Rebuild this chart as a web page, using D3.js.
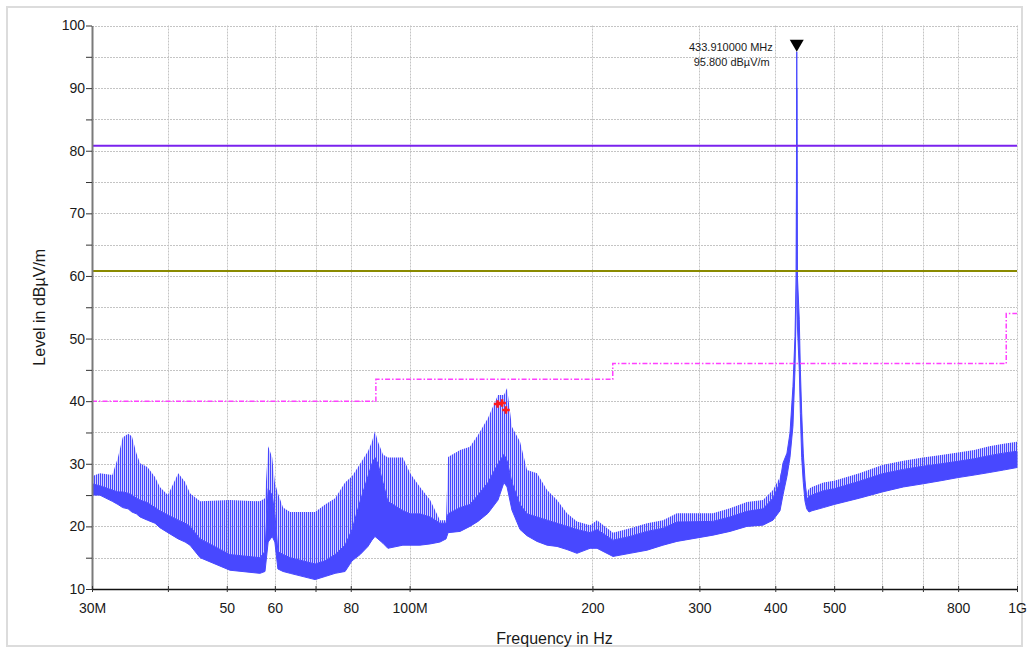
<!DOCTYPE html>
<html>
<head>
<meta charset="utf-8">
<script src="https://cdn.jsdelivr.net/npm/d3@7"></script>
<style>
  html, body { margin: 0; padding: 0; background: #ffffff; }
  svg { display: block; font-family: "Liberation Sans", Arial, Helvetica, sans-serif; }
</style>
</head>
<body>
<svg id="chart" width="1029" height="648"></svg>
<script>
// Spectrum trace, sampled at knot frequencies (MHz):
// peak = top of the comb spikes, core = top of the dense band, floor = bottom of the trace (dBµV/m)
const freqMHz = [
  30.0, 30.9, 32.4, 33.1, 33.7, 34.4, 34.9, 35.5, 36.0, 37.0, 38.1, 38.8, 40.0, 41.6, 42.7, 43.5,
  45.2, 50.6, 56.7, 57.8, 58.5, 59.4, 60.0, 60.7, 61.9, 63.6, 69.9, 72.6, 75.4, 78.3, 80.4, 82.9,
  85.4, 86.7, 87.7, 88.7, 90.4, 92.1, 97.5, 100.2, 104.0, 108.1, 112.2, 114.8, 115.7, 121.1, 125.7,
  129.6, 134.6, 139.8, 143.0, 144.7, 147.4, 152.0, 156.1, 162.1, 168.4, 174.9, 181.6, 188.6, 198.2,
  203.5, 216.2, 230.7, 246.0, 261.3, 275.5, 315.9, 336.9, 359.2, 381.8, 396.5, 407.2, 411.8, 418.1,
  422.9, 427.7, 431.0, 433.0, 433.91, 435.0, 438.1, 439.9, 442.1, 444.8, 447.7, 450.6, 454.5, 459.7,
  480, 500, 550, 600, 650, 700, 750, 800, 850, 900, 950, 1000
];
const peakLevel = [
  28.0, 28.5, 28.2, 31.0, 34.2, 34.8, 34.4, 31.7, 30.1, 29.5, 27.9, 26.3, 25.0, 28.5, 27.1, 25.3,
  24.0, 24.2, 24.0, 24.5, 32.8, 31.0, 27.0, 25.3, 23.0, 22.3, 22.3, 23.5, 24.5, 27.0, 28.0, 30.0,
  32.0, 33.5, 35.2, 33.5, 31.5, 31.0, 31.0, 28.5, 26.3, 24.2, 21.0, 21.0, 31.1, 32.2, 32.7,
  34.6, 37.3, 41.0, 41.0, 42.1, 35.9, 33.5, 29.0, 28.5, 25.8, 24.2, 22.1, 20.8, 20.2,
  21.0, 19.0, 19.7, 20.5, 21.0, 22.1, 22.1, 22.9, 23.9, 24.2, 25.8, 27.9, 30.1, 31.7,
  34.9, 42.3, 50.3, 60.0, 95.8, 60.0, 53.0, 45.0, 38.1, 31.7, 27.4, 25.3, 26.0, 26.3,
  27.0, 27.3, 28.5, 29.8, 30.5, 31.0, 31.4, 31.8, 32.2, 32.8, 33.2, 33.5
];
const coreLevel = [
  26.8, 26.5, 25.8, 25.5, 25.5, 25.3, 25.0, 24.5, 24.2, 23.8, 23.0, 22.5, 21.8, 21.0, 20.5, 20.0,
  18.0, 15.5, 15.0, 16.0, 26.0, 25.0, 22.0, 16.0, 15.5, 15.0, 14.0, 14.5, 15.5, 17.0, 19.5, 24.0,
  28.0, 30.0, 31.0, 30.0, 27.0, 24.0, 22.5, 22.0, 22.0, 21.5, 20.5, 20.5, 22.0, 23.0, 23.5,
  25.0, 27.0, 30.0, 31.5, 30.5, 27.0, 23.5, 22.0, 21.5, 21.0, 20.5, 20.0, 19.5, 19.0,
  19.5, 17.8, 18.4, 19.2, 19.7, 20.7, 20.8, 21.5, 22.4, 22.8, 24.5, 27.0, 30.1, 31.7,
  34.9, 42.3, 50.3, 60.0, 95.8, 60.0, 53.0, 45.0, 38.1, 31.7, 27.4, 24.3, 24.8, 25.0,
  25.7, 26.0, 27.2, 28.4, 29.1, 29.6, 30.0, 30.4, 30.8, 31.3, 31.7, 32.0
];
const floorLevel = [
  25.0, 25.0, 24.0, 23.5, 23.0, 22.8, 22.3, 22.0, 21.5, 21.0, 20.5, 19.8, 19.0, 18.0, 17.5, 17.0,
  15.0, 13.0, 12.5, 12.8, 17.5, 18.4, 17.5, 13.2, 12.8, 12.5, 11.5, 12.0, 12.5, 12.8, 14.5, 15.5,
  16.8, 17.8, 18.4, 18.0, 17.3, 16.5, 17.0, 17.0, 17.0, 17.2, 17.5, 18.0, 19.0, 19.2, 20.0,
  20.8, 22.1, 24.2, 27.0, 26.3, 22.6, 19.5, 18.5, 17.6, 17.0, 16.8, 16.3, 15.7, 16.5,
  16.5, 15.2, 15.7, 16.2, 17.0, 17.6, 18.6, 19.2, 20.0, 20.2, 21.0, 22.5, 25.0, 28.0,
  31.0, 36.0, 45.0, 55.0, 90.0, 52.0, 45.0, 38.0, 31.0, 27.0, 24.0, 22.8, 22.3, 22.5,
  23.0, 23.5, 24.5, 25.5, 26.3, 26.8, 27.3, 27.8, 28.2, 28.6, 29.0, 29.4
];

// Axis ticks
const xTickValues = [30, 40, 50, 60, 70, 80, 100, 200, 300, 400, 500, 600, 700, 800, 1000];
const xTickLabels = { 30: "30M", 50: "50", 60: "60", 80: "80", 100: "100M", 200: "200",
                      300: "300", 400: "400", 500: "500", 800: "800", 1000: "1G" };
const yTickValues = [10, 15, 20, 25, 30, 35, 40, 45, 50, 55, 60, 65, 70, 75, 80, 85, 90, 95, 100];

// Limit lines
const stepLimitFreq = [30, 88, 216, 960, 1000];
const stepLimitLevel = [40, 43.5, 46, 54, 54];
const fundamentalLimit = 80.8;
const spuriousLimit = 60.8;

// Peak marker and final measurement points
const markerFreq = 433.91;
const markerLevel = 95.8;
const finalFreq = [139.6, 142.0, 144.1];
const finalLevel = [39.55, 39.7, 38.6];

(function draw() {
  const traceColor = "#4848ff";

  const svg = d3.select("#chart");
  const pLeft = 92, pRight = 1017, pTop = 25.5, pBottom = 589;

  const x = d3.scaleLog().domain([30, 1000]).range([pLeft, pRight]);
  const y = d3.scaleLinear().domain([10, 100]).range([pBottom, pTop]);

  // outer frame
  svg.append("rect").attr("x", 7).attr("y", 7).attr("width", 1015).attr("height", 639)
    .attr("fill", "#ffffff").attr("stroke", "#dcdcdc").attr("stroke-width", 2);

  const defs = svg.append("defs");
  defs.append("clipPath").attr("id", "plotClip")
    .append("rect").attr("x", pLeft).attr("y", pTop - 1)
    .attr("width", pRight - pLeft + 1).attr("height", pBottom - pTop + 1);
  // vertical hatching for the sparse upper part of the comb
  const pat = defs.append("pattern").attr("id", "combFill")
    .attr("patternUnits", "userSpaceOnUse").attr("width", 2).attr("height", 4);
  pat.append("rect").attr("x", 0).attr("y", 0).attr("width", 1.25).attr("height", 4).attr("fill", traceColor);

  // grid
  const grid = svg.append("g").attr("stroke", "#c4c4c4").attr("stroke-width", 1).attr("stroke-dasharray", "2,1");
  grid.selectAll("line.h").data(yTickValues.filter(v => v > 10)).enter().append("line")
    .attr("x1", pLeft).attr("x2", pRight)
    .attr("y1", d => Math.round(y(d)) + 0.5).attr("y2", d => Math.round(y(d)) + 0.5);
  grid.selectAll("line.v").data(xTickValues.filter(v => v > 30)).enter().append("line")
    .attr("x1", d => Math.round(x(d)) + 0.5).attr("x2", d => Math.round(x(d)) + 0.5)
    .attr("y1", pTop).attr("y2", pBottom);

  // trace
  const trace = d3.range(freqMHz.length).map(i => ({
    f: freqMHz[i], peak: peakLevel[i], core: coreLevel[i], floor: floorLevel[i]
  }));
  const plot = svg.append("g").attr("clip-path", "url(#plotClip)");
  plot.append("path").datum(trace)
    .attr("d", d3.area().x(d => x(d.f)).y0(d => y(d.core)).y1(d => y(d.peak)))
    .attr("fill", "url(#combFill)");
  plot.append("path").datum(trace)
    .attr("d", d3.area().x(d => x(d.f)).y0(d => y(d.floor)).y1(d => y(d.core)))
    .attr("fill", traceColor).attr("stroke", traceColor).attr("stroke-width", 1)
    .attr("stroke-linejoin", "round");

  // limit lines
  const lim = svg.append("g").attr("clip-path", "url(#plotClip)");
  lim.append("line").attr("x1", pLeft).attr("x2", pRight)
    .attr("y1", y(spuriousLimit)).attr("y2", y(spuriousLimit))
    .attr("stroke", "#8a8a00").attr("stroke-width", 2);
  lim.append("line").attr("x1", pLeft).attr("x2", pRight)
    .attr("y1", y(fundamentalLimit)).attr("y2", y(fundamentalLimit))
    .attr("stroke", "#7a22ee").attr("stroke-width", 2);
  lim.append("path")
    .datum(stepLimitFreq.map((f, i) => [f, stepLimitLevel[i]]))
    .attr("d", d3.line().x(d => x(d[0])).y(d => y(d[1])).curve(d3.curveStepAfter))
    .attr("fill", "none").attr("stroke", "#ff40ff").attr("stroke-width", 1.5)
    .attr("stroke-dasharray", "5,2,1.5,2");

  // axes
  const yAxis = svg.append("g").attr("transform", `translate(${pLeft},0)`)
    .call(d3.axisLeft(y).tickValues(yTickValues).tickSize(6).tickSizeOuter(0)
      .tickFormat(d => d % 10 === 0 ? d : ""));
  yAxis.select(".domain").attr("stroke", "#7a7a7a").attr("stroke-width", 2);
  yAxis.selectAll(".tick line").attr("stroke", "#333333");
  yAxis.selectAll(".tick text").attr("x", -7).attr("font-size", 14).attr("fill", "#1a1a1a")
    .attr("font-family", "'Liberation Sans', Arial, sans-serif");

  const xAxis = svg.append("g").attr("transform", `translate(0,${pBottom})`)
    .call(d3.axisBottom(x).tickValues(xTickValues).tickSizeOuter(0)
      .tickFormat(d => xTickLabels[d] || ""));
  xAxis.select(".domain").attr("stroke", "#111111").attr("stroke-width", 1.5);
  xAxis.selectAll(".tick line").attr("y1", -3).attr("y2", 3).attr("stroke", "#333333");
  xAxis.selectAll(".tick text").attr("y", 24).attr("dy", 0).attr("font-size", 14).attr("fill", "#1a1a1a")
    .attr("font-family", "'Liberation Sans', Arial, sans-serif");

  // axis titles
  svg.append("text").attr("x", (pLeft + pRight) / 2).attr("y", 644)
    .attr("text-anchor", "middle").attr("font-size", 16).attr("fill", "#1a1a1a")
    .text("Frequency in Hz");
  svg.append("text").attr("transform", `translate(45,${(pTop + pBottom) / 2}) rotate(-90)`)
    .attr("text-anchor", "middle").attr("font-size", 16).attr("fill", "#1a1a1a")
    .text("Level in dBµV/m");

  // final measurement points
  svg.append("g").selectAll("path").data(finalFreq.map((f, i) => [f, finalLevel[i]])).enter()
    .append("path")
    .attr("transform", d => `translate(${x(d[0])},${y(d[1])})`)
    .attr("d", d3.symbol().type(d3.symbolCross).size(32))
    .attr("fill", "#ff1a1a");

  // peak marker
  const mx = x(markerFreq), my = y(markerLevel);
  svg.append("path")
    .attr("d", `M${mx - 7},${my - 12}L${mx + 7},${my - 12}L${mx},${my}Z`)
    .attr("fill", "#000000");
  const mLabel = svg.append("g").attr("font-size", 11).attr("fill", "#1a1a1a").attr("text-anchor", "end");
  mLabel.append("text").attr("x", mx - 24).attr("y", 50.5).text(markerFreq.toFixed(6) + " MHz");
  mLabel.append("text").attr("x", mx - 27).attr("y", 65.5).text(markerLevel.toFixed(3) + " dBµV/m");
})();
</script>
</body>
</html>
